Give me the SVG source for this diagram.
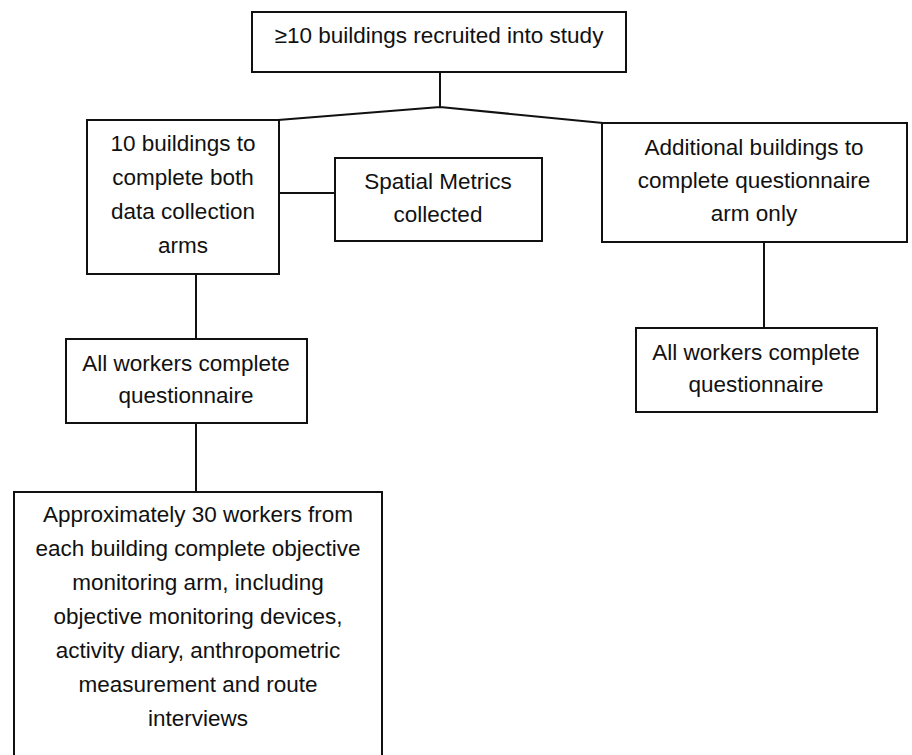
<svg xmlns="http://www.w3.org/2000/svg" width="912" height="755" viewBox="0 0 912 755">
<style>
.box{fill:#fff;stroke:#111;stroke-width:2}
.ln{fill:none;stroke:#111;stroke-width:2}
text{font-family:"Liberation Sans",Arial,sans-serif;font-size:22.5px;fill:#111;text-anchor:middle}
</style>
<rect width="912" height="755" fill="#fff"/>
<g id="connectors">
<path class="ln" d="M440,72 V107 M278,120 L440,107 L603,123"/>
<path class="ln" d="M279,193 H335"/>
<path class="ln" d="M196,274 V339 M196,423 V492"/>
<path class="ln" d="M764,242 V328"/>
</g>
<g id="n-top">
<rect class="box" x="252" y="12" width="374" height="60"/>
<text x="439" y="43">≥10 buildings recruited into study</text>
</g>
<g id="n-ten">
<rect class="box" x="87" y="120" width="192" height="154"/>
<text x="183" y="151">10 buildings to</text>
<text x="183" y="185">complete both</text>
<text x="183" y="219">data collection</text>
<text x="183" y="253">arms</text>
</g>
<g id="n-spatial">
<rect class="box" x="335" y="158" width="207" height="83"/>
<text x="438" y="189">Spatial Metrics</text>
<text x="438" y="222">collected</text>
</g>
<g id="n-additional">
<rect class="box" x="602" y="123" width="305" height="119"/>
<text x="754" y="155">Additional buildings to</text>
<text x="754" y="188">complete questionnaire</text>
<text x="754" y="221">arm only</text>
</g>
<g id="n-questR">
<rect class="box" x="636" y="328" width="241" height="84"/>
<text x="756" y="360">All workers complete</text>
<text x="756" y="392">questionnaire</text>
</g>
<g id="n-questL">
<rect class="box" x="66" y="339" width="241" height="84"/>
<text x="186" y="371">All workers complete</text>
<text x="186" y="403">questionnaire</text>
</g>
<g id="n-objective">
<rect class="box" x="14" y="492" width="368" height="280"/>
<text x="198" y="522">Approximately 30 workers from</text>
<text x="198" y="556">each building complete objective</text>
<text x="198" y="590">monitoring arm, including</text>
<text x="198" y="624">objective monitoring devices,</text>
<text x="198" y="658">activity diary, anthropometric</text>
<text x="198" y="692">measurement and route</text>
<text x="198" y="726">interviews</text>
</g>
</svg>
